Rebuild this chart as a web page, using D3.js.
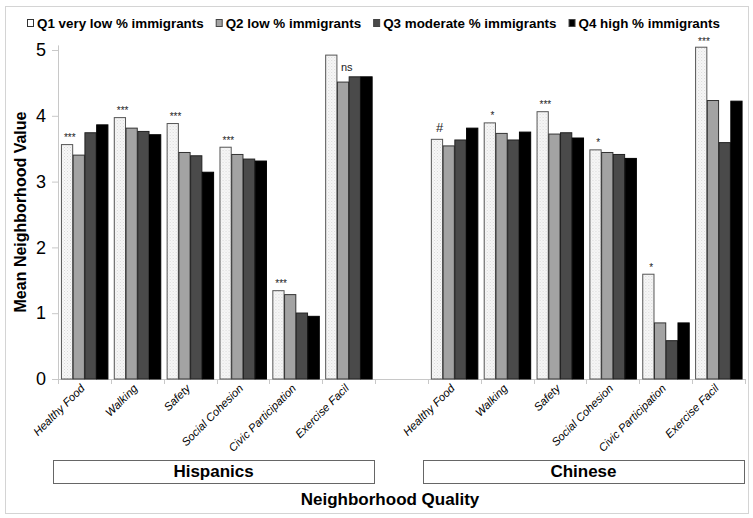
<!DOCTYPE html>
<html>
<head>
<meta charset="utf-8">
<script src="https://cdn.jsdelivr.net/npm/d3@7"></script>
<style>
  body { margin: 0; background: #fff; }
  svg { font-family: 'Liberation Sans', Arial, sans-serif; display: block; }
</style>
</head>
<body>
<svg id="chart"></svg>
<script>
const groups = ['Hispanics', 'Chinese'];
const categories = ['Healthy Food', 'Walking', 'Safety', 'Social Cohesion', 'Civic Participation', 'Exercise Facil'];
const quartiles = ['Q1 very low % immigrants', 'Q2 low % immigrants', 'Q3 moderate % immigrants', 'Q4 high % immigrants'];

// rows = categories, columns = Q1..Q4
const hispanicValues = [
  [3.57, 3.41, 3.75, 3.87],
  [3.98, 3.82, 3.77, 3.72],
  [3.89, 3.45, 3.40, 3.15],
  [3.53, 3.42, 3.35, 3.32],
  [1.35, 1.29, 1.01, 0.96],
  [4.93, 4.52, 4.60, 4.60],
];
const chineseValues = [
  [3.65, 3.55, 3.64, 3.82],
  [3.90, 3.74, 3.64, 3.76],
  [4.07, 3.73, 3.75, 3.67],
  [3.49, 3.45, 3.42, 3.36],
  [1.60, 0.86, 0.59, 0.86],
  [5.05, 4.24, 3.60, 4.23],
];
const hispanicSig = ['***', '***', '***', '***', '***', 'ns'];
const chineseSig = ['#', '*', '***', '*', '*', '***'];
const yTicks = [0, 1, 2, 3, 4, 5];

const width = 753, height = 518;
const svg = d3.select('#chart').attr('width', width).attr('height', height);

// outer frame
svg.append('rect')
  .attr('x', 5.5).attr('y', 6.5)
  .attr('width', 743).attr('height', 507)
  .attr('fill', '#fff')
  .attr('stroke', '#d4d4d4');

// pattern for Q1 bars
const defs = svg.append('defs');
const pat = defs.append('pattern')
  .attr('id', 'dots')
  .attr('width', 3).attr('height', 3)
  .attr('patternUnits', 'userSpaceOnUse');
pat.append('rect').attr('width', 3).attr('height', 3).attr('fill', '#f7f7f7');
pat.append('rect').attr('x', 0).attr('y', 0).attr('width', 1).attr('height', 1).attr('fill', '#d8d8d8');
pat.append('rect').attr('x', 1.5).attr('y', 1.5).attr('width', 1).attr('height', 1).attr('fill', '#e2e2e2');

const fills = ['url(#dots)', '#a3a3a3', '#4a4a4a', '#000'];
const strokes = ['#555', '#333', '#222', '#000'];
const legendFills = ['#fff', '#a3a3a3', '#4a4a4a', '#000'];

// build rows
const valuesByGroup = [hispanicValues, chineseValues];
const sigByGroup = [hispanicSig, chineseSig];
const slots = [];
groups.forEach((g, gi) => {
  if (gi > 0) slots.push('gap');
  categories.forEach(c => slots.push(g + '|' + c));
});
const rows = [];
groups.forEach((g, gi) => {
  categories.forEach((c, ci) => {
    rows.push({ key: g + '|' + c, group: g, cat: c, values: valuesByGroup[gi][ci], sig: sigByGroup[gi][ci] });
  });
});

const x = d3.scaleBand().domain(slots).range([58, 745]).padding(0);
const xq = d3.scaleBand().domain(quartiles).range([0, x.bandwidth()]).paddingInner(0).paddingOuter(0.25);
const y = d3.scaleLinear().domain([0, 5]).range([379, 50]);

// y axis
const yAxis = svg.append('g')
  .attr('transform', 'translate(58,0)')
  .call(d3.axisLeft(y).tickValues(yTicks).tickSize(6).tickPadding(6).tickFormat(d3.format('d')));
yAxis.select('.domain').remove();
yAxis.selectAll('.tick line').attr('stroke', '#c8c8c8');
yAxis.selectAll('.tick text')
  .attr('font-size', 18)
  .attr('fill', '#000')
  .attr('font-family', "'Liberation Sans', Arial, sans-serif");
svg.append('line')
  .attr('x1', 58.5).attr('x2', 58.5)
  .attr('y1', y(0)).attr('y2', y(5.07))
  .attr('stroke', '#c8c8c8');

// x axis baseline & ticks at slot boundaries
svg.append('line')
  .attr('x1', 58).attr('x2', 745)
  .attr('y1', y(0) + 0.5).attr('y2', y(0) + 0.5)
  .attr('stroke', '#c8c8c8');
svg.append('g').selectAll('line')
  .data(slots.concat(['end']))
  .join('line')
  .attr('x1', d => Math.round(d === 'end' ? 745 : x(d)) + 0.5)
  .attr('x2', d => Math.round(d === 'end' ? 745 : x(d)) + 0.5)
  .attr('y1', y(0))
  .attr('y2', y(0) + 5)
  .attr('stroke', '#c8c8c8');

// bars
const cat = svg.append('g').selectAll('g')
  .data(rows)
  .join('g')
  .attr('transform', d => `translate(${x(d.key)},0)`);

cat.selectAll('rect')
  .data(d => d.values.map((v, i) => ({ q: quartiles[i], i, v })))
  .join('rect')
  .attr('x', d => xq(d.q) + 0.5)
  .attr('y', d => y(d.v) + 0.5)
  .attr('width', xq.bandwidth() - 0.5)
  .attr('height', d => y(0) - y(d.v) - 0.5)
  .attr('fill', d => fills[d.i])
  .attr('stroke', d => strokes[d.i])
  .attr('stroke-width', 1);

// significance marks
cat.append('text')
  .text(d => d.sig)
  .attr('x', d => d.sig === 'ns'
    ? xq(quartiles[1]) + xq.bandwidth() / 2 + 4
    : xq(quartiles[0]) + xq.bandwidth() / 2 + 3)
  .attr('y', d => d.sig === 'ns' ? y(d.values[0]) + 12 : Math.max(y(d.values[0]) - 7, 41))
  .attr('text-anchor', 'middle')
  .attr('font-size', d => d.sig === '#' ? 13 : (d.sig === 'ns' ? 11 : 10))
  .attr('fill', '#222')
  .attr('dy', d => d.sig === '#' ? 0 : 4);

// category labels
cat.append('text')
  .text(d => d.cat)
  .attr('transform', `translate(${x.bandwidth() / 2 + 1},389) rotate(-45)`)
  .attr('text-anchor', 'end')
  .attr('font-size', 11.3)
  .attr('font-style', 'italic')
  .attr('fill', '#000');

// group boxes
groups.forEach(g => {
  const first = x(g + '|' + categories[0]);
  const last = x(g + '|' + categories[categories.length - 1]) + x.bandwidth();
  const cx = (first + last) / 2 - 3;
  const w = last - first + 4;
  svg.append('rect')
    .attr('x', Math.round(cx - w / 2) + 0.5)
    .attr('y', 460.5)
    .attr('width', Math.round(w))
    .attr('height', 23)
    .attr('fill', '#fff')
    .attr('stroke', '#666');
  svg.append('text')
    .text(g)
    .attr('x', cx)
    .attr('y', 477)
    .attr('text-anchor', 'middle')
    .attr('font-size', 17)
    .attr('font-weight', 'bold');
});

// axis titles
svg.append('text')
  .text('Neighborhood Quality')
  .attr('x', 390)
  .attr('y', 505)
  .attr('text-anchor', 'middle')
  .attr('font-size', 17)
  .attr('font-weight', 'bold');
svg.append('text')
  .text('Mean Neighborhood Value')
  .attr('transform', 'translate(26,212) rotate(-90)')
  .attr('text-anchor', 'middle')
  .attr('font-size', 16)
  .attr('font-weight', 'bold');

// legend
const legend = svg.append('g');
let lx = 27;
quartiles.forEach((q, i) => {
  legend.append('rect')
    .attr('x', lx + 0.5).attr('y', 19.5)
    .attr('width', 6).attr('height', 7)
    .attr('fill', legendFills[i])
    .attr('stroke', i === 0 ? '#333' : '#444');
  const t = legend.append('text')
    .text(q)
    .attr('x', lx + 10)
    .attr('y', 28)
    .attr('font-size', 13.4)
    .attr('font-weight', 'bold');
  lx += 10 + t.node().getComputedTextLength() + 12;
});
</script>
</body>
</html>
